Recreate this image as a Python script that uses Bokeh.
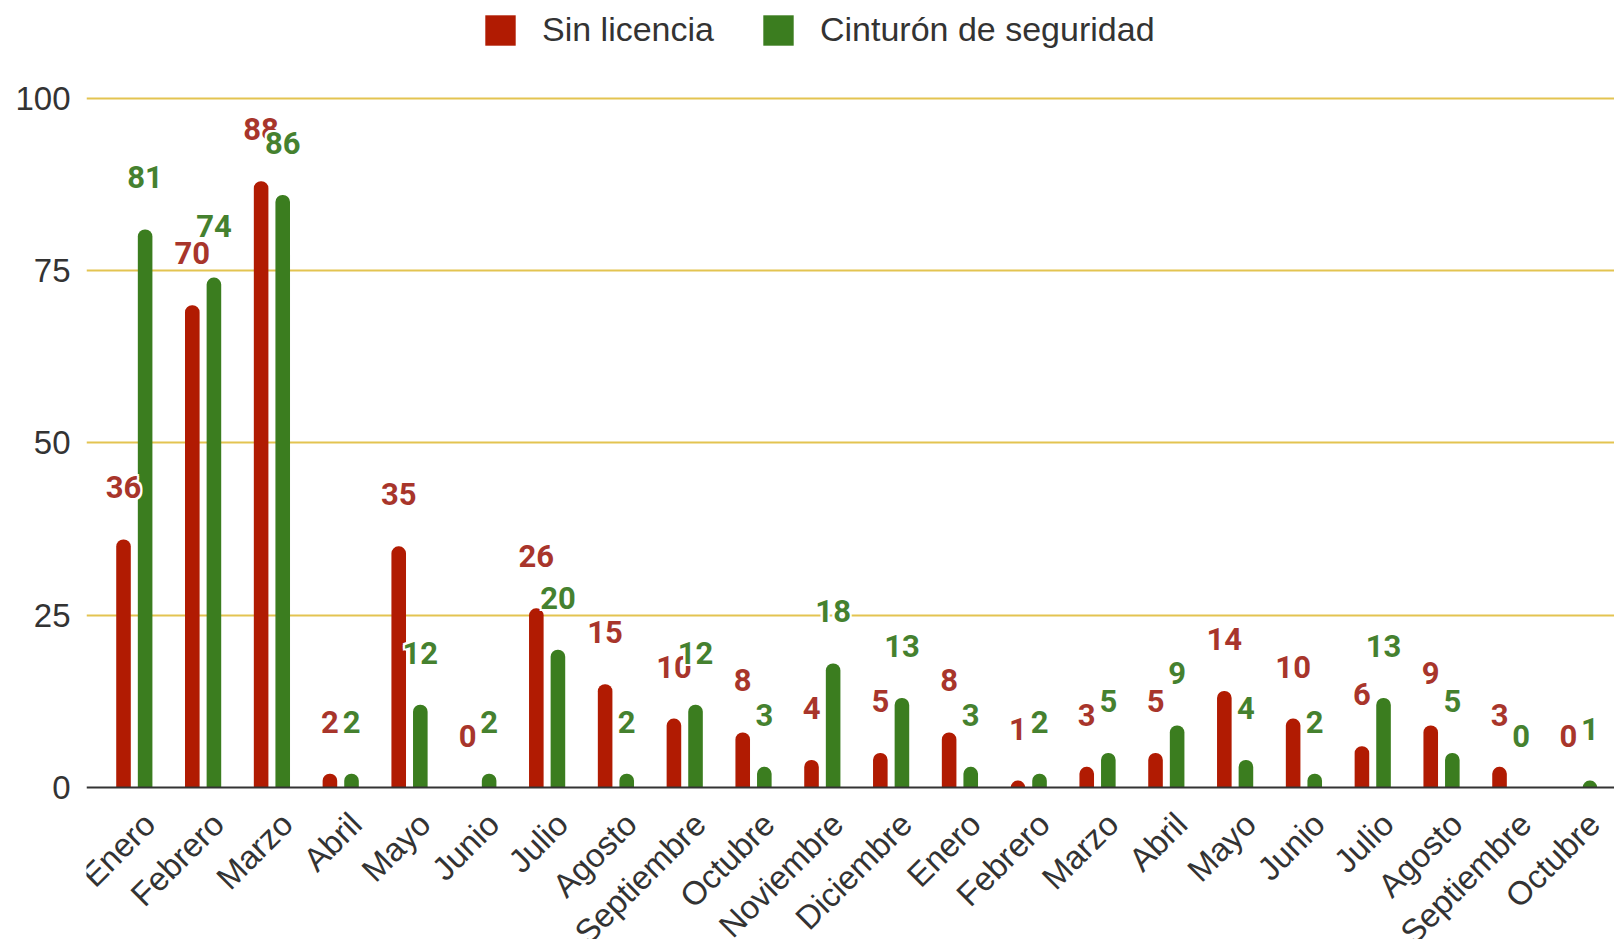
import math
from bokeh.plotting import figure
from bokeh.models import ColumnDataSource, Range1d, FixedTicker, Legend, LegendItem, LabelSet, Span
from bokeh.transform import dodge
from bokeh.core.properties import value
from bokeh.embed import file_html
from bokeh.resources import INLINE

months = ["Enero", "Febrero", "Marzo", "Abril", "Mayo", "Junio", "Julio", "Agosto",
          "Septiembre", "Octubre", "Noviembre", "Diciembre",
          "Enero", "Febrero", "Marzo", "Abril", "Mayo", "Junio", "Julio", "Agosto",
          "Septiembre", "Octubre"]
sin_licencia = [36, 70, 88, 2, 35, 0, 26, 15, 10, 8, 4, 5, 8, 1, 3, 5, 14, 10, 6, 9, 3, 0]
cinturon = [81, 74, 86, 2, 12, 2, 20, 2, 12, 3, 18, 13, 3, 2, 5, 9, 4, 2, 13, 5, 0, 1]
y_ticks = [0, 25, 50, 75, 100]

RED_BAR = "#b11b02"
GREEN_BAR = "#3b7d1f"
RED_TXT = "#a8352b"
GREEN_TXT = "#45812f"

idx = list(range(len(months)))
src = ColumnDataSource(dict(
    x=idx,
    zero=[0] * len(months),
    month=months,
    sin=sin_licencia,
    cin=cinturon,
    sin_lbl=[str(v) for v in sin_licencia],
    cin_lbl=[str(v) for v in cinturon],
))

# frame covers the full height; 0 sits 152px above the bottom, 100 sits 98px below the top
p = figure(width=1614, height=939, output_backend="svg", toolbar_location=None,
           x_range=Range1d(-0.695, 21.514), y_range=Range1d(-22.06, 114.22),
           min_border_left=86, min_border_right=0, min_border_top=0, min_border_bottom=0)
p.outline_line_color = None
p.background_fill_color = "white"
p.border_fill_color = "white"

p.xgrid.grid_line_color = None
p.ygrid.ticker = FixedTicker(ticks=[25, 50, 75, 100])
p.ygrid.grid_line_color = "#e3c451"
p.ygrid.grid_line_width = 2

off = 0.157
bw = 0.212
r1 = p.vbar(x=dodge("x", -off, range=p.x_range), top="sin", width=bw, bottom=0, source=src,
            fill_color=RED_BAR, line_color=None, border_radius=(7, 7, 0, 0))
r2 = p.vbar(x=dodge("x", off, range=p.x_range), top="cin", width=bw, bottom=0, source=src,
            fill_color=GREEN_BAR, line_color=None, border_radius=(7, 7, 0, 0))

# baseline (x axis line)
p.add_layout(Span(location=0, dimension="width", line_color="#333333", line_width=2))

base = dict(source=src, text_align="center", text_baseline="middle",
            text_font=value("Roboto"), text_font_style="bold", text_font_size="31px")
halo = [(-2, 0), (2, 0), (0, -2), (0, 2), (-2, -2), (2, 2), (-2, 2), (2, -2)]
for col, lbl, d, color in [("sin", "sin_lbl", -off, RED_TXT), ("cin", "cin_lbl", off, GREEN_TXT)]:
    for hx, hy in halo:
        p.text(x=dodge("x", d, range=p.x_range), y=col, text=lbl, text_color="white",
               x_offset=hx, y_offset=-52 + hy, **base)
    p.text(x=dodge("x", d, range=p.x_range), y=col, text=lbl, text_color=color,
           y_offset=-52, **base)

# month names, slanted under each group
p.xaxis.visible = False
month_labels = LabelSet(x="x", y="zero", text="month", source=src,
                        angle=math.pi / 4, text_align="right", text_baseline="middle",
                        x_offset=15, y_offset=-31,
                        text_font=value("Liberation Sans"), text_font_size="33px",
                        text_color="#333333")
p.add_layout(month_labels)

p.yaxis.ticker = FixedTicker(ticks=y_ticks)
p.yaxis.axis_line_color = None
p.yaxis.major_tick_line_color = None
p.yaxis.minor_tick_line_color = None
p.yaxis.major_tick_out = 0
p.yaxis.major_label_text_font = "Liberation Sans"
p.yaxis.major_label_text_font_size = "33px"
p.yaxis.major_label_text_color = "#333333"
p.yaxis.major_label_standoff = 16

legend = Legend(items=[LegendItem(label="Sin licencia", renderers=[r1]),
                       LegendItem(label="Cinturón de seguridad", renderers=[r2])],
                orientation="horizontal", location=(395, 890),
                glyph_width=38, glyph_height=38, label_standoff=23, spacing=45,
                padding=0, margin=0, border_line_color=None, background_fill_alpha=0,
                label_text_font="Liberation Sans", label_text_font_size="34px",
                label_text_color="#333333")
p.add_layout(legend, "center")

open("out.html", "w").write(file_html(p, INLINE))
